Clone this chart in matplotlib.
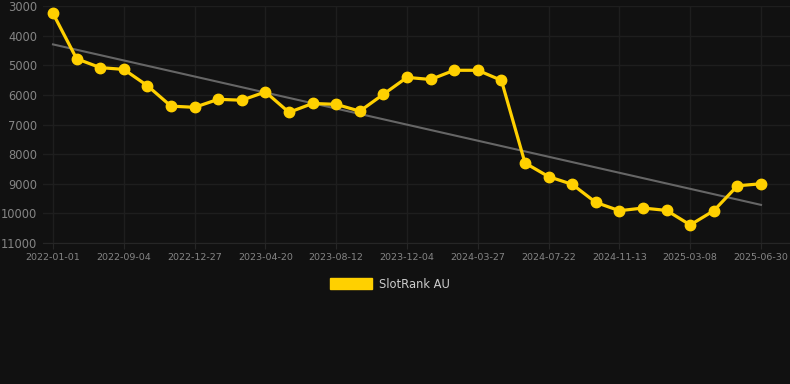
import numpy as np
import matplotlib
matplotlib.use("Agg")
import matplotlib.pyplot as plt
from matplotlib.patches import Patch

# ranks, one point per period (31 periods)
ranks = [
    3250, 4780, 5080, 5140, 5690, 6380, 6420, 6150, 6180, 5900,
    6590, 6290, 6320, 6550, 5980, 5410, 5480, 5170, 5170, 5510,
    8300, 8760, 9020, 9630, 9910, 9820, 9900, 10390, 9910, 9070,
    9000,
]
tick_labels = [
    "2022-01-01", "2022-09-04", "2022-12-27", "2023-04-20", "2023-08-12",
    "2023-12-04", "2024-03-27", "2024-07-22", "2024-11-13", "2025-03-08",
    "2025-06-30",
]
y_ticks = [3000, 4000, 5000, 6000, 7000, 8000, 9000, 10000, 11000]
series_name = "SlotRank AU"

bg = "#111111"
yellow = "#ffd000"

x = np.arange(len(ranks))
ranks = np.array(ranks)

# linear trend through the points
slope, intercept = np.polyfit(x, ranks, 1)
trend = slope * x + intercept

fig = plt.figure(figsize=(7.9, 3.84), dpi=100, facecolor=bg)
ax = fig.add_axes([43 / 790, 1 - 243 / 384, 747 / 790, 237 / 384])
ax.set_facecolor(bg)

ax.plot(x, trend, color="#666666", linewidth=1.5, zorder=2)
ax.plot(x, ranks, color=yellow, linewidth=2.3, marker="o", markersize=7.5,
        zorder=3, clip_on=False)

ax.set_ylim(11000, 3000)
ax.set_yticks(y_ticks)
ax.set_xlim(-10 / 23.6, 737 / 23.6)
ax.set_xticks(x[::3])
ax.set_xticklabels(tick_labels)

ax.grid(True, color="#1e1e1e", linewidth=1)
for s in ["top", "right", "left"]:
    ax.spines[s].set_visible(False)
ax.spines["bottom"].set_color("#262626")

ax.tick_params(axis="y", length=0, pad=4, labelsize=8.3, labelcolor="#858585")
ax.tick_params(axis="x", length=4, color="#262626", pad=3, labelsize=6.8,
               labelcolor="#858585")

fig.legend(
    handles=[Patch(facecolor=yellow, edgecolor=yellow, label=series_name)],
    loc="center",
    bbox_to_anchor=(390 / 790, 1 - 284 / 384),
    frameon=False,
    fontsize=8.3,
    labelcolor="#cccccc",
    handlelength=3.6,
    handleheight=1.0,
    handletextpad=0.6,
)

fig.savefig("out.png", dpi=100, facecolor=bg)
